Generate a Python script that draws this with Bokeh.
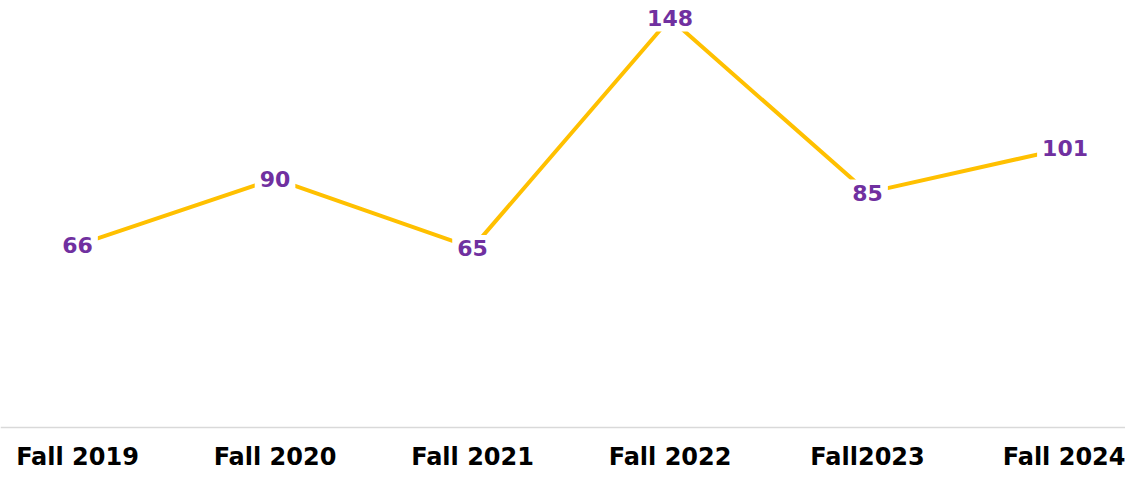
from bokeh.plotting import figure
from bokeh.models import ColumnDataSource, FixedTicker, Range1d, Span
from bokeh.core.properties import value
from bokeh.embed import file_html
from bokeh.resources import INLINE

categories = ["Fall 2019", "Fall 2020", "Fall 2021", "Fall 2022", "Fall2023", "Fall 2024"]
counts = [66, 90, 65, 148, 85, 101]

xs = list(range(len(categories)))
src = ColumnDataSource(dict(x=xs, y=counts, lbl=[str(c) for c in counts]))

p = figure(width=1125, height=473, output_backend="svg", toolbar_location=None,
           x_range=Range1d(-0.390, 5.306), y_range=Range1d(-3.6, 154.5),
           min_border_left=0, min_border_right=0, min_border_top=0, min_border_bottom=34)
p.outline_line_color = None
p.grid.visible = False
p.yaxis.visible = False
p.background_fill_color = "white"
p.border_fill_color = "white"

p.add_layout(Span(location=0, dimension="width", line_color="#D9D9D9", line_width=1.5))

p.line("x", "y", source=src, line_color="#FFC000", line_width=4)
p.text("x", "y", text="lbl", source=src, text_align="center", text_baseline="middle",
       text_color="#7030A0", text_font=value("DejaVu Sans"), text_font_style="bold",
       text_font_size="22px", background_fill_color="white", padding=5)

ax = p.xaxis[0]
ax.ticker = FixedTicker(ticks=xs)
ax.major_label_overrides = {i: c for i, c in enumerate(categories)}
ax.axis_line_color = None
ax.major_tick_line_color = None
ax.minor_tick_line_color = None
ax.major_tick_out = 0
ax.major_label_text_font = "DejaVu Sans"
ax.major_label_text_font_style = "bold"
ax.major_label_text_font_size = "24px"
ax.major_label_text_color = "black"
ax.major_label_standoff = 5

open("out.html", "w").write(file_html(p, INLINE))
